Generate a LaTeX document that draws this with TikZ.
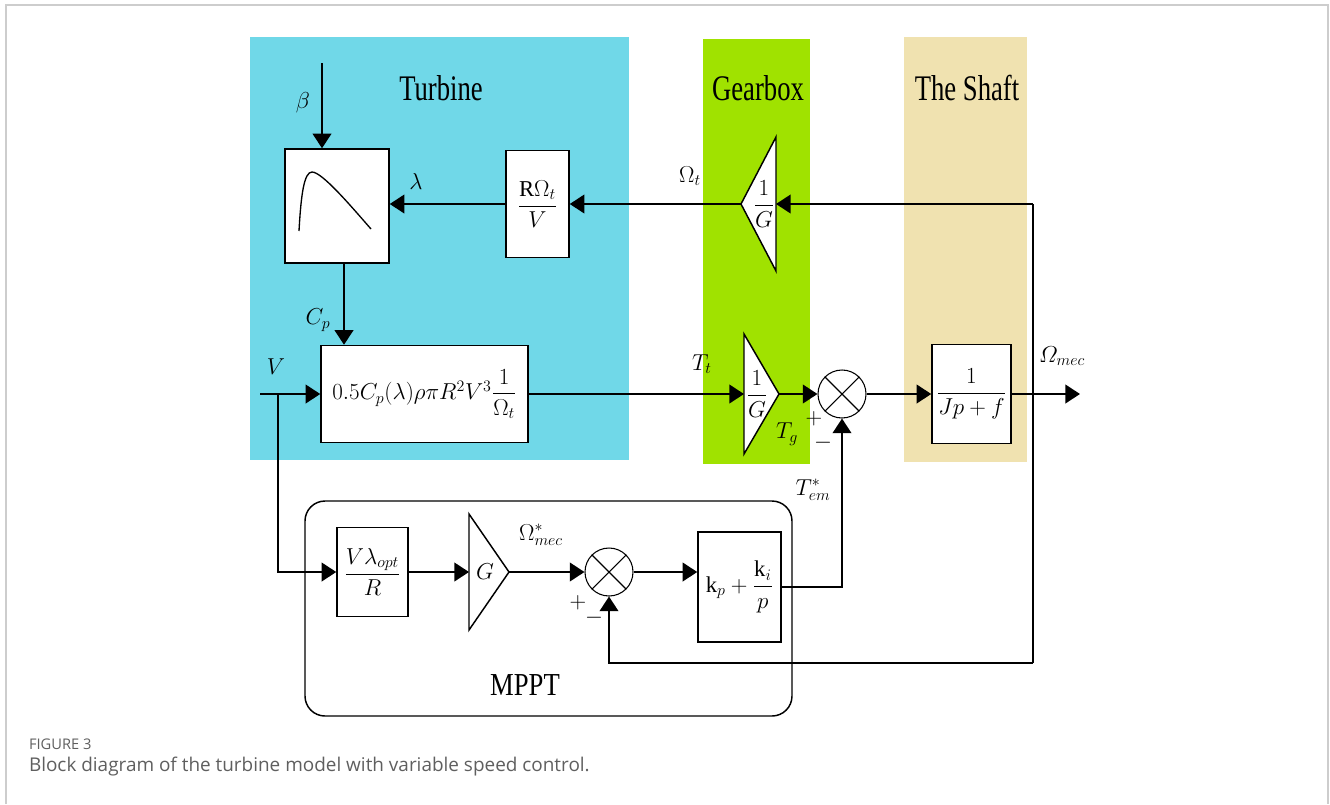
\documentclass[tikz,border=0pt]{standalone}
\usepackage{amsmath}
\usepackage{graphicx}
\usepackage{fontspec}
\setmainfont{Liberation Serif}
\newfontfamily\capfont{Open Sans}
\usetikzlibrary{arrows.meta}
\definecolor{turq}{RGB}{112,216,232}
\definecolor{limeg}{RGB}{160,226,0}
\definecolor{tanc}{RGB}{240,226,176}
\definecolor{framec}{RGB}{205,205,205}
\definecolor{capgray}{RGB}{95,95,95}
\begin{document}
\begin{tikzpicture}[x=0.75pt,y=-0.75pt,
  line width=1.5pt,
  >={Triangle[length=11pt,width=14pt]},
  blk/.style={draw, fill=white, line width=1.1pt, inner sep=0pt, font=\fontsize{17}{20}\selectfont},
  lbl/.style={inner sep=0pt, font=\fontsize{18.5}{22}\selectfont},
  ttl/.style={inner sep=0pt, font=\fontsize{20}{24}\selectfont},
  sumj/.style={circle, draw, fill=white, line width=0.8pt, minimum size=36pt, inner sep=0pt},
  gain/.style={draw, fill=white, line width=1.1pt, line join=miter}
]
\useasboundingbox (0,0) rectangle (1330,804);
% frame
\draw[framec, line width=1.2pt] (6,804) -- (6,5) -- (1328,5) -- (1328,804);
% background panels
\fill[turq] (250,37) rectangle (629,460);
\fill[limeg] (703,39) rectangle (810,464);
\fill[tanc] (904,37) rectangle (1027,462);
% titles
\node[ttl] (tturb) at (441,88) {\scalebox{1}[1.35]{Turbine}};
\node[ttl] (tgear) at (758,88) {\scalebox{1}[1.35]{Gearbox}};
\node[ttl] (tshaft) at (967,88) {\scalebox{1}[1.35]{The Shaft}};
\node[ttl] (tmppt) at (525,685) {\scalebox{1}[1.2]{MPPT}};
% MPPT frame
\draw[line width=1.1pt, rounded corners=20pt*0.75] (305,501) rectangle (792,716);
% blocks
\node[blk, minimum width=104*0.75pt, minimum height=114*0.75pt] (cpbox) at (337,206) {};
\draw[line width=1pt] (299,231) .. controls (301,195) and (304,172) .. (312,172) .. controls (322,172) and (350,205) .. (371,229);
\node[blk, minimum width=63*0.75pt, minimum height=107*0.75pt] (rbox) at (537.5,204) {$\dfrac{\mathrm{R}\Omega_t}{V}$};
\node[blk, minimum width=207*0.75pt, minimum height=97*0.75pt] (pbox) at (424.5,394) {$0.5C_p(\lambda)\rho\pi R^2V^3\dfrac{1}{\Omega_t}$};
\node[blk, minimum width=79*0.75pt, minimum height=99*0.75pt] (sbox) at (971.5,394) {$\dfrac{1}{Jp+f}$};
\node[blk, minimum width=71*0.75pt, minimum height=89*0.75pt] (vbox) at (372.5,572) {$\dfrac{V\lambda_{opt}}{R}$};
\node[blk, minimum width=83*0.75pt, minimum height=110*0.75pt] (pibox) at (739.5,587) {$\mathrm{k}_p+\dfrac{\mathrm{k}_i}{p}$};
% gain triangles
\coordinate (g1tip) at (741,204);
\coordinate (g1base) at (776,204);
\draw[gain] (776,137) -- (g1tip) -- (776,271) -- cycle;
\node[blk, draw=none, fill=none] (g1txt) at (764,204) {$\dfrac{1}{G}$};
\coordinate (g2base) at (744,394);
\coordinate (g2tip) at (779,394);
\draw[gain] (744,334) -- (g2tip) -- (744,454) -- cycle;
\node[blk, draw=none, fill=none] (g2txt) at (757,394) {$\dfrac{1}{G}$};
\coordinate (g3base) at (469,572);
\coordinate (g3tip) at (509,572);
\draw[gain] (469,514) -- (g3tip) -- (469,630) -- cycle;
\node[lbl] (g3txt) at (485,572) {$G$};
% summing junctions
\node[sumj] (sum1) at (842,394) {};
\draw[line width=0.8pt] (sum1.45) -- (sum1.225) (sum1.135) -- (sum1.315);
\node[sumj] (sum2) at (609,572) {};
\draw[line width=0.8pt] (sum2.45) -- (sum2.225) (sum2.135) -- (sum2.315);
% connectors
\coordinate (bin) at (322,63);
\draw[->] (bin) -- (bin |- cpbox.north);
\draw[->] (rbox.west) -- (cpbox.east |- rbox.west);
\coordinate (fbR) at (1033,204);
\coordinate (fbB) at (1033,663);
\draw[->] (fbR) -- (g1base);
\draw[->] (g1tip) -- (rbox.east);
\coordinate (cpo) at (344,263);
\draw[->] (cpo) -- (cpo |- pbox.north);
\coordinate (vin) at (260,394);
\coordinate (vbr) at (278,394);
\draw[->] (vin) -- (pbox.west);
\draw[->] (vbr) |- (vbox.west);
\draw[->] (pbox.east) -- (g2base);
\draw[->] (g2tip) -- (sum1.west);
\draw[->] (sum1.east) -- (sbox.west);
\coordinate (out) at (1080,394);
\draw[->] (sbox.east) -- (out);
\draw (fbR) -- (fbB);
\draw[->] (fbB) -| (sum2.south);
\draw[->] (vbox.east) -- (g3base);
\draw[->] (g3tip) -- (sum2.west);
\draw[->] (sum2.east) -- (pibox.west |- sum2.east);
\draw[->] (pibox.east) -| (sum1.south);
% labels
\node[lbl] (lbeta) at (303,103) {$\beta$};
\node[lbl] (llam) at (416,181) {$\lambda$};
\node[lbl] (lomt) at (690,176) {$\Omega_t$};
\node[lbl] (lcp) at (318,320) {$C_p$};
\node[lbl] (lv) at (276,367) {$V$};
\node[lbl] (ltt) at (702,364) {$T_t$};
\node[lbl] (ltg) at (787,434) {$T_g$};
\node[lbl] (lp1) at (814,419) {$+$};
\node[lbl] (lm1) at (823,443) {$-$};
\node[lbl] (ltem) at (813,490) {$T^{*}_{em}$};
\node[lbl] (lomec) at (1062,356) {$\varOmega_{mec}$};
\node[lbl] (lomref) at (541,535) {$\Omega^{*}_{mec}$};
\node[lbl] (lp2) at (578,603) {$+$};
\node[lbl] (lm2) at (594,618) {$-$};
% caption
\node[anchor=west, inner sep=0pt, text=capgray, font=\capfont\fontsize{11}{13}\selectfont] (cap1) at (28,744) {FIGURE 3};
\node[anchor=west, inner sep=0pt, text=capgray, font=\capfont\fontsize{14.2}{17}\selectfont] (cap2) at (28,767) {Block diagram of the turbine model with variable speed control.};
\end{tikzpicture}
\end{document}
